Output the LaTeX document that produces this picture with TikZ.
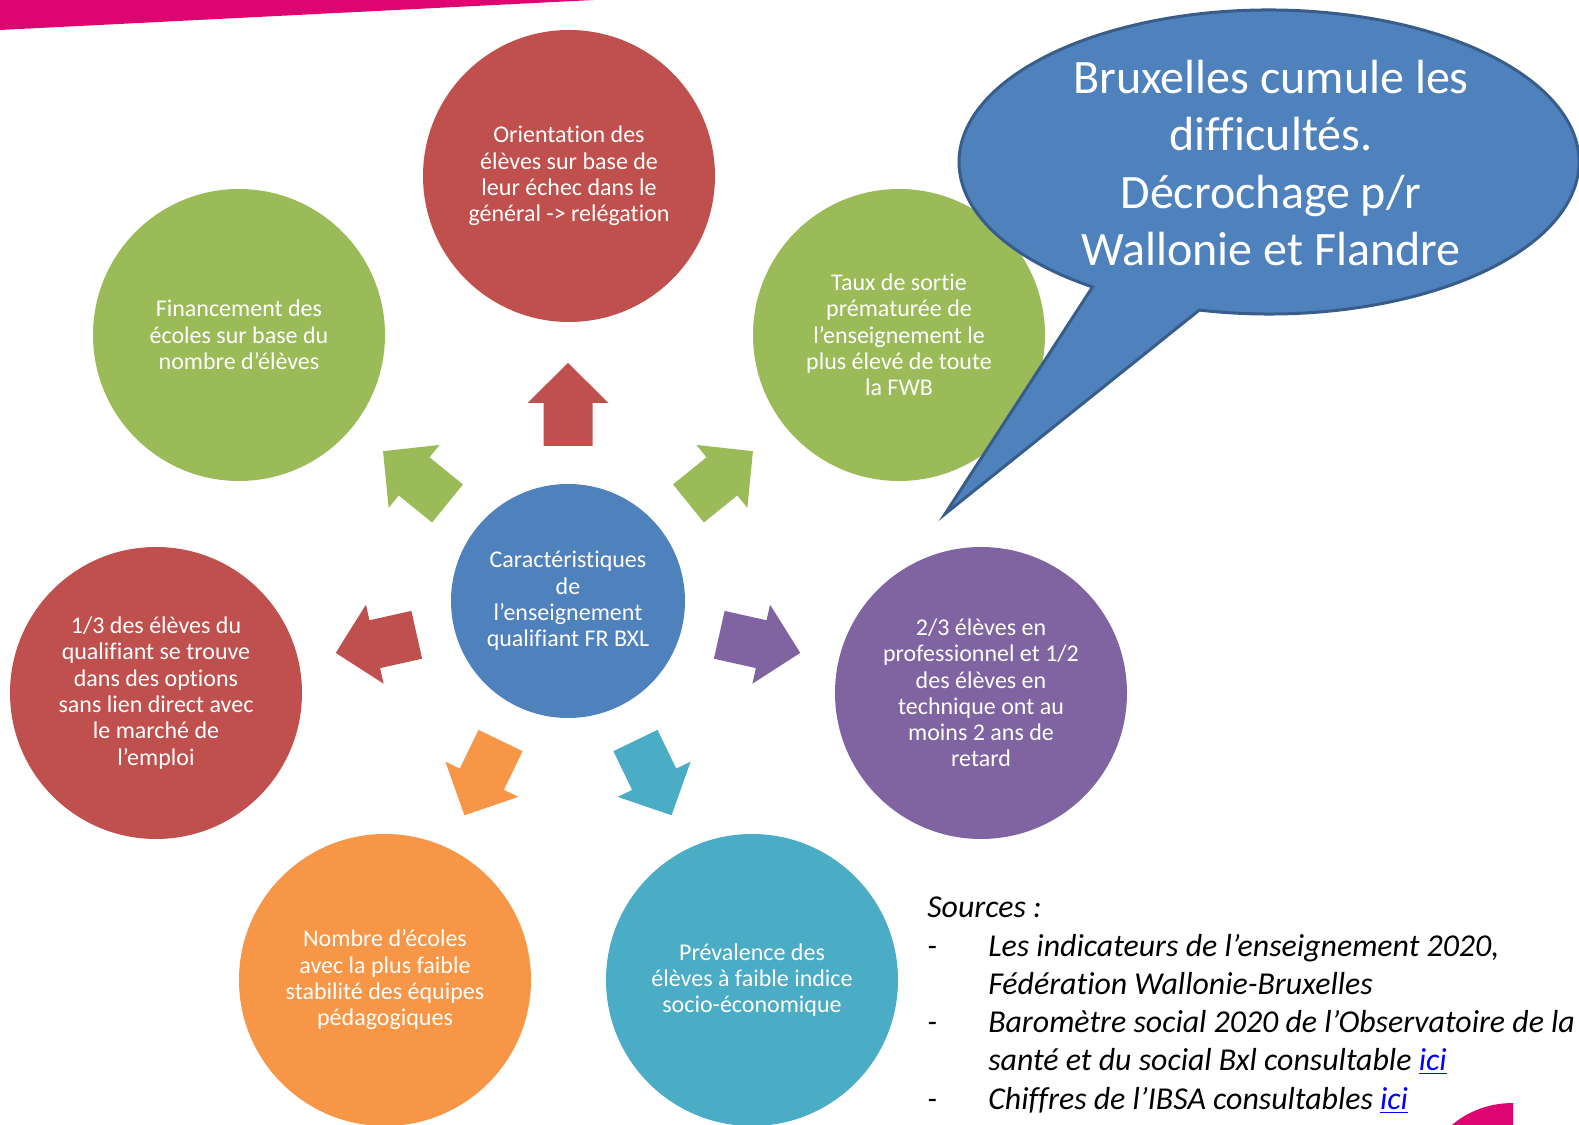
\documentclass[tikz,border=0pt]{standalone}
\usepackage{fontspec}
\setmainfont{Carlito}[Ligatures=CommonOff]
\usetikzlibrary{calc}

\definecolor{ored}{HTML}{C0504D}
\definecolor{ogreen}{HTML}{9BBB59}
\definecolor{oblue}{HTML}{4F81BD}
\definecolor{opurple}{HTML}{8064A2}
\definecolor{oaqua}{HTML}{4BACC6}
\definecolor{oorange}{HTML}{F79646}
\definecolor{bubbleline}{HTML}{385D8A}
\definecolor{pinkbar}{RGB}{222,4,114}

\begin{document}
\begin{tikzpicture}[
  x=0.75pt, y=0.75pt,
  topic/.style={circle, minimum size=219pt, inner sep=0pt, text=white, align=center,
    font=\fontsize{18}{19.7}\selectfont},
  hub/.style={topic, minimum size=175.5pt},
  source/.style={anchor=base west, inner sep=0pt, font=\fontsize{23.9}{28.7}\selectfont\itshape}
]
\useasboundingbox (0,0) rectangle (1579,1125);

% decorations of the slide
\fill[pinkbar] (0,1125) -- (594,1125) -- (0,1095) -- cycle;
\fill[pinkbar] (1452,0) .. controls (1468,14) and (1490,22) .. (1513,22) -- (1513,0) -- cycle;

% circles
\node[hub, fill=oblue] (carac) at (568,524) {Caractéristiques\\de\\l’enseignement\\qualifiant FR BXL};
\node[topic, fill=ored] (orient) at (569,949) {Orientation des\\élèves sur base de\\leur échec dans le\\général -> relégation};
\node[topic, fill=ogreen] (financ) at (239,790) {Financement des\\écoles sur base du\\nombre d’élèves};
\node[topic, fill=ogreen] (sortie) at (899,790) {Taux de sortie\\prématurée de\\l’enseignement le\\plus élevé de toute\\la FWB};
\node[topic, fill=ored] (options) at (156,432) {1/3 des élèves du\\qualifiant se trouve\\dans des options\\sans lien direct avec\\le marché de\\l’emploi};
\node[topic, fill=opurple] (retard) at (981,432) {2/3 élèves en\\professionnel et 1/2\\des élèves en\\technique ont au\\moins 2 ans de\\retard};
\node[topic, fill=oorange] (stabil) at (385,145) {Nombre d’écoles\\avec la plus faible\\stabilité des équipes\\pédagogiques};
\node[topic, fill=oaqua] (preval) at (752,145) {Prévalence des\\élèves à faible indice\\socio-économique};

% block arrows around the hub
\foreach \ang/\col in {90/ored, 141/ogreen, 39/ogreen, 192.6/ored, -12.6/opurple, 244.2/oorange, -64.2/oaqua}{
  \begin{scope}[shift={(carac.center)}, rotate=\ang]
    \fill[\col] (155,-24.5) -- (198,-24.5) -- (198,-40.5) -- (238,0) -- (198,40.5) -- (198,24.5) -- (155,24.5) -- cycle;
  \end{scope}
}

% callout
\coordinate (bc) at (1269,963);
\filldraw[fill=oblue, draw=bubbleline, line width=2.25pt]
  ($(bc)+(257:310 and 152)$) arc[start angle=257, end angle=595.3, x radius=232.5pt, y radius=114pt]
  -- (945,611) -- cycle;
\node[text=white, align=center, font=\fontsize{36}{43}\selectfont] (bubble) at (1271,962)
  {Bruxelles cumule les\\difficultés.\\Décrochage p/r\\Wallonie et Flandre};

% sources
\node[source] (src) at (927,207) {Sources :};
\node[source] (dash1) at (927,168) {-};
\node[source] (src1) at (988,168) {Les indicateurs de l’enseignement 2020,};
\node[source] (src1b) at (988,130) {Fédération Wallonie-Bruxelles};
\node[source] (dash2) at (927,92) {-};
\node[source] (src2) at (988,92) {Baromètre social 2020 de l’Observatoire de la};
\node[source] (src2b) at (988,54) {santé et du social Bxl consultable \textcolor{blue}{\underline{ici}}};
\node[source] (dash3) at (927,15) {-};
\node[source] (src3) at (988,15) {Chiffres de l’IBSA consultables \textcolor{blue}{\underline{ici}}};
\end{tikzpicture}
\end{document}
